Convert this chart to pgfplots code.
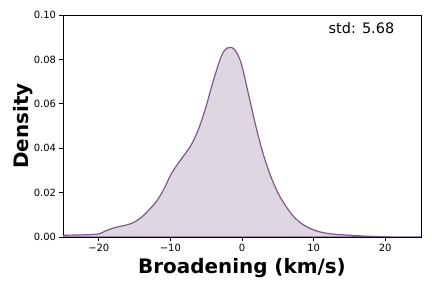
\documentclass[border=0pt]{standalone}
\usepackage{pgfplots}
\pgfplotsset{compat=1.18}
\usepackage{fontspec}
\setmainfont{DejaVu Sans}
\definecolor{kdeline}{RGB}{125,90,135}
\begin{document}
\begin{tikzpicture}
\begin{axis}[
  at={(0,0)}, anchor=south west,
  scale only axis,
  width=358bp, height=222bp,
  xmin=-25, xmax=25, ymin=0, ymax=0.10,
  xtick={-20,-10,0,10,20},
  xticklabels={−20,−10,0,10,20},
  ytick={0,0.02,0.04,0.06,0.08,0.10},
  yticklabels={0.00,0.02,0.04,0.06,0.08,0.10},
  tick align=outside,
  xtick pos=lower, ytick pos=left,
  major tick length=3.5bp,
  tick style={black, line width=0.8bp},
  tick label style={font=\fontsize{10}{12}\selectfont},
  axis line style={line width=0.8bp},
  scaled y ticks=false,
  xlabel={\textbf{Broadening (km/s)}},
  ylabel={\textbf{Density}},
  label style={font=\fontsize{20}{24}\selectfont},
  xlabel style={yshift=0bp},
  ylabel style={yshift=-6bp},
  clip=true,
]
\addplot[smooth, kdeline, line width=1.2bp, fill=kdeline, fill opacity=0.25, draw opacity=1] coordinates {
(-25,0.0008) (-23,0.0009) (-21,0.0011) (-20,0.0014) (-19.5,0.0020) (-19,0.0028)
(-18,0.0040) (-17,0.0048) (-16,0.0055) (-15,0.0068) (-14,0.0090) (-13,0.0122)
(-12,0.0158) (-11,0.0210) (-10,0.0277) (-9,0.0328) (-8,0.0372) (-7,0.0420)
(-6,0.0492) (-5,0.0590) (-4,0.0705) (-3,0.0805) (-2.5,0.0838) (-2,0.0852) (-1.5,0.0854)
(-1,0.0843) (-0.5,0.0815) (0,0.0770) (1,0.0630) (2,0.0490) (3,0.0370)
(4,0.0275) (5,0.0200) (6,0.0145) (7,0.0100) (8,0.0068) (9,0.0047)
(10,0.0032) (11,0.0022) (12,0.0016) (13,0.0012) (14,0.0010) (15,0.0008)
(16,0.0006) (18,0.0003) (20,0.0001) (22,0.00003) (25,0.0)
} \closedcycle;
\node[anchor=east, font=\fontsize{14.5}{17}\selectfont] at (rel axis cs:0.935,0.941) {std: 5.68};
\end{axis}
\useasboundingbox (-63bp,-51bp) rectangle (369bp,237bp);
\end{tikzpicture}
\end{document}
